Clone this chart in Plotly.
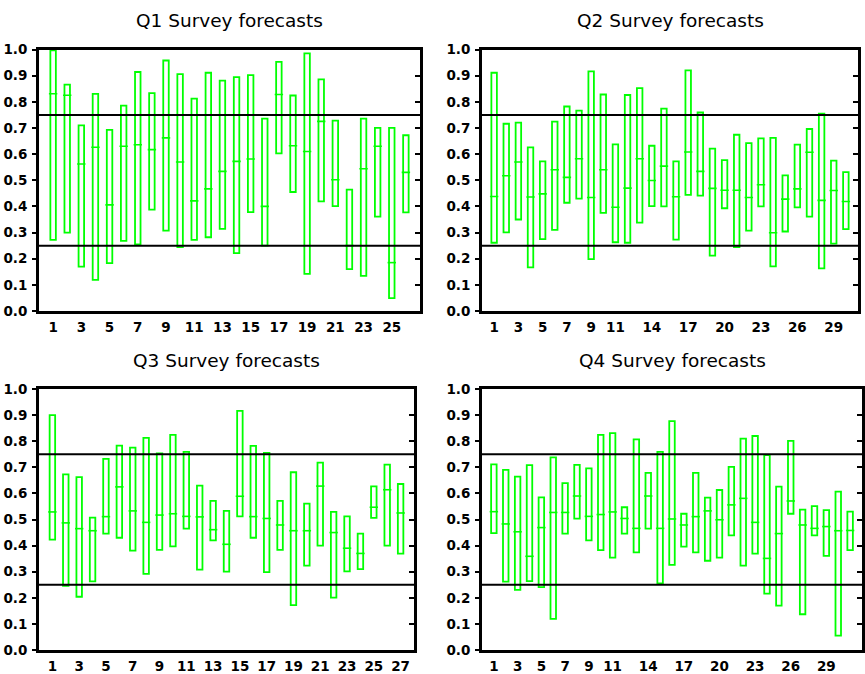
import plotly.graph_objects as go

# Survey forecast ranges: low / high / median for each forecast
q1_low = [0.272, 0.300, 0.170, 0.119, 0.183, 0.268, 0.255, 0.388, 0.307, 0.244, 0.272, 0.282, 0.314,
          0.221, 0.378, 0.250, 0.603, 0.455, 0.142, 0.419, 0.401, 0.160, 0.134, 0.361, 0.049, 0.377]
q1_high = [0.997, 0.866, 0.710, 0.830, 0.693, 0.785, 0.914, 0.833, 0.958, 0.906, 0.812, 0.911, 0.881,
           0.894, 0.902, 0.736, 0.953, 0.824, 0.985, 0.886, 0.728, 0.464, 0.736, 0.700, 0.700, 0.672]
q1_med = [0.831, 0.825, 0.562, 0.626, 0.406, 0.630, 0.636, 0.617, 0.662, 0.570, 0.421, 0.467, 0.534,
          0.572, 0.581, 0.400, 0.828, 0.632, 0.610, 0.725, 0.502, 0.250, 0.544, 0.630, 0.185, 0.530]

q2_low = [0.261, 0.301, 0.350, 0.167, 0.275, 0.310, 0.414, 0.430, 0.198, 0.375, 0.263, 0.261, 0.338,
          0.401, 0.400, 0.273, 0.444, 0.441, 0.212, 0.393, 0.244, 0.307, 0.400, 0.171, 0.304, 0.396,
          0.361, 0.163, 0.258, 0.313]
q2_high = [0.911, 0.716, 0.720, 0.626, 0.572, 0.724, 0.782, 0.766, 0.916, 0.828, 0.637, 0.826, 0.852,
           0.632, 0.774, 0.572, 0.920, 0.759, 0.621, 0.577, 0.674, 0.642, 0.660, 0.662, 0.519, 0.636,
           0.696, 0.755, 0.575, 0.531]
q2_med = [0.438, 0.517, 0.570, 0.436, 0.448, 0.540, 0.511, 0.582, 0.434, 0.540, 0.397, 0.470, 0.582,
          0.499, 0.554, 0.437, 0.608, 0.534, 0.469, 0.462, 0.462, 0.434, 0.483, 0.299, 0.428, 0.467,
          0.607, 0.423, 0.461, 0.419]

q3_low = [0.423, 0.246, 0.204, 0.263, 0.446, 0.430, 0.381, 0.292, 0.384, 0.397, 0.465, 0.308, 0.420,
          0.300, 0.512, 0.430, 0.298, 0.384, 0.172, 0.323, 0.400, 0.201, 0.301, 0.310, 0.506, 0.400,
          0.369]
q3_high = [0.900, 0.673, 0.662, 0.507, 0.732, 0.783, 0.775, 0.813, 0.753, 0.824, 0.759, 0.630, 0.571,
           0.533, 0.916, 0.782, 0.755, 0.571, 0.681, 0.561, 0.718, 0.529, 0.512, 0.446, 0.627, 0.710,
           0.636]
q3_med = [0.529, 0.487, 0.465, 0.457, 0.511, 0.625, 0.533, 0.489, 0.517, 0.522, 0.512, 0.510, 0.461,
          0.405, 0.589, 0.511, 0.504, 0.479, 0.457, 0.457, 0.628, 0.450, 0.390, 0.370, 0.547, 0.614,
          0.525]

q4_low = [0.448, 0.262, 0.230, 0.264, 0.241, 0.119, 0.446, 0.503, 0.420, 0.383, 0.354, 0.446, 0.374,
          0.465, 0.255, 0.326, 0.396, 0.374, 0.342, 0.354, 0.439, 0.323, 0.369, 0.216, 0.170, 0.522,
          0.137, 0.439, 0.361, 0.055, 0.383]
q4_high = [0.711, 0.690, 0.664, 0.708, 0.585, 0.738, 0.639, 0.709, 0.696, 0.824, 0.831, 0.547, 0.807,
           0.679, 0.759, 0.877, 0.522, 0.679, 0.584, 0.613, 0.702, 0.810, 0.820, 0.747, 0.626, 0.801,
           0.538, 0.551, 0.536, 0.607, 0.530]
q4_med = [0.530, 0.483, 0.453, 0.359, 0.469, 0.527, 0.527, 0.590, 0.512, 0.519, 0.529, 0.504, 0.466,
          0.590, 0.466, 0.502, 0.479, 0.511, 0.533, 0.499, 0.556, 0.581, 0.489, 0.351, 0.446, 0.571,
          0.479, 0.466, 0.473, 0.457, 0.458]

titles = ["Q1 Survey forecasts", "Q2 Survey forecasts", "Q3 Survey forecasts", "Q4 Survey forecasts"]
x_ticks = [
    [1, 3, 5, 7, 9, 11, 13, 15, 17, 19, 21, 23, 25],
    [1, 3, 5, 7, 9, 11, 14, 17, 20, 23, 26, 29],
    [1, 3, 5, 7, 9, 11, 13, 15, 17, 19, 21, 23, 25, 27],
    [1, 3, 5, 7, 9, 11, 14, 17, 20, 23, 26, 29],
]
y_ticks = [0.0, 0.1, 0.2, 0.3, 0.4, 0.5, 0.6, 0.7, 0.8, 0.9, 1.0]
thresholds = [0.25, 0.75]

panels = [(q1_low, q1_high, q1_med), (q2_low, q2_high, q2_med),
          (q3_low, q3_high, q3_med), (q4_low, q4_high, q4_med)]

W, H = 865, 674
# pixel frames of the four plot areas: (left, right, top, bottom)
frames = [(39, 420, 49.5, 311), (482, 858, 49.5, 311),
          (39, 414, 389, 650), (482, 862, 389, 650)]

GREEN = "#00ff00"
tick_font = dict(family="DejaVu Sans", size=13.5, color="black", weight="bold")

fig = go.Figure()
layout = dict(
    width=W, height=H, margin=dict(l=0, r=0, t=0, b=0, autoexpand=False),
    paper_bgcolor="white", plot_bgcolor="white",
    showlegend=False, barmode="overlay",
)
shapes, annotations = [], []

for i, ((low, high, med), (l, r, t, b)) in enumerate(zip(panels, frames)):
    n = len(low)
    idx = list(range(1, n + 1))
    xa = f"x{i + 1}" if i else "x"
    ya = f"y{i + 1}" if i else "y"
    yr = f"y{i + 5}"
    xkey = f"xaxis{i + 1}" if i else "xaxis"
    ykey = f"yaxis{i + 1}" if i else "yaxis"
    yrkey = f"yaxis{i + 5}"

    spacing_px = (r - l) / (n + 1)
    box_w = 5.5 / spacing_px

    fig.add_trace(go.Bar(
        x=idx, y=[h - lo for h, lo in zip(high, low)], base=low,
        width=box_w, marker=dict(color="white", line=dict(color=GREEN, width=1.8)),
        xaxis=xa, yaxis=ya, hoverinfo="skip",
    ))
    fig.add_trace(go.Scatter(
        x=idx, y=med, mode="markers",
        marker=dict(symbol="line-ew", size=6, line=dict(color=GREEN, width=1.6)),
        xaxis=xa, yaxis=ya, hoverinfo="skip",
    ))
    # invisible trace so the right-hand tick axis is rendered
    fig.add_trace(go.Scatter(x=[0], y=[0], mode="markers", marker=dict(opacity=0),
                             xaxis=xa, yaxis=yr, hoverinfo="skip"))

    xdom = [l / W, r / W]
    ydom = [(H - b) / H, (H - t) / H]
    layout[xkey] = dict(
        domain=xdom, anchor=ya, range=[0, n + 1], tickmode="array", tickvals=x_ticks[i],
        ticks="", showgrid=False, zeroline=False, showline=True, linecolor="black",
        linewidth=3, mirror=True, tickfont=tick_font, ticklabelstandoff=2, automargin=False,
    )
    layout[ykey] = dict(
        domain=ydom, anchor=xa, range=[0, 1], tickmode="array", tickvals=y_ticks,
        ticktext=[f"{v:.1f}" for v in y_ticks], ticks="outside", ticklen=4, tickwidth=1.5,
        tickcolor="black", showgrid=False, zeroline=False, showline=True, linecolor="black",
        linewidth=3, mirror=True, tickfont=tick_font, ticklabelstandoff=2, automargin=False,
    )
    layout[yrkey] = dict(
        overlaying=ya, anchor=xa, side="right", range=[0, 1], tickmode="array",
        tickvals=y_ticks, ticks="inside", ticklen=5, tickwidth=1.5, tickcolor="black",
        showticklabels=False, showgrid=False, zeroline=False, showline=False, automargin=False,
    )

    for v in thresholds:
        shapes.append(dict(type="line", xref=f"{xa} domain", yref=ya, x0=0, x1=1, y0=v, y1=v,
                           line=dict(color="black", width=2), layer="above"))

    annotations.append(dict(
        text=titles[i], xref="paper", yref="paper", x=(l + r) / 2 / W,
        y=(H - (t - 29)) / H, xanchor="center", yanchor="middle", showarrow=False,
        font=dict(family="DejaVu Sans", size=18.5, color="black"),
    ))

layout["shapes"] = shapes
layout["annotations"] = annotations
fig.update_layout(**layout)

fig.write_html("out.html")
